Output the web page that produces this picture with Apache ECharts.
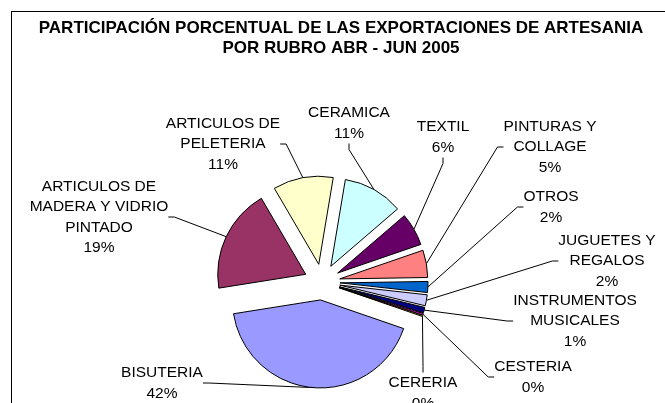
<!DOCTYPE html>
<html>
<head>
<meta charset="utf-8">
<script src="https://cdn.jsdelivr.net/npm/echarts@6/dist/echarts.min.js"></script>
<style>
  html, body { margin: 0; padding: 0; background: #fff; }
  #wrap { position: relative; width: 665px; height: 403px; overflow: hidden; }
  #frame {
    position: absolute; left: 11px; top: 11px; right: -10px; bottom: -10px;
    border-left: 1px solid #000; border-top: 1px solid #000;
  }
  #chart { position: absolute; left: 0; top: 0; width: 665px; height: 403px; }
</style>
</head>
<body>
<div id="wrap">
  <div id="frame"></div>
  <div id="chart"></div>
</div>
<script>
// data, in the workbook's order (clockwise from the right side)
const titleLines = [
  'PARTICIPACIÓN PORCENTUAL DE LAS EXPORTACIONES DE ARTESANIA',
  'POR RUBRO ABR - JUN 2005'
]
const categories = [
  'BISUTERIA',
  'ARTICULOS DE\nMADERA Y VIDRIO\nPINTADO',
  'ARTICULOS DE\nPELETERIA',
  'CERAMICA',
  'TEXTIL',
  'PINTURAS Y\nCOLLAGE',
  'OTROS',
  'JUGUETES Y\nREGALOS',
  'INSTRUMENTOS\nMUSICALES',
  'CESTERIA',
  'CERERIA'
]
const shares = [42, 19, 11, 11, 6, 5, 2, 2, 1, 0.3, 0.2]

// excel default fills
const colors = ['#9999FF', '#993366', '#FFFFCC', '#CCFFFF', '#660066', '#FF8080',
  '#0066CC', '#CCCCFF', '#000080', '#FF00FF', '#FFFF00']

// where the labels were dragged to (centre of each text block)
const labelPos = [
  [162, 383], [99, 217], [223, 144], [349, 123], [443, 137], [550, 147],
  [551, 207], [607, 261], [575, 321], [533, 377], [423, 393]
]

const font = '"Liberation Sans", Arial, sans-serif'
const center = [322, 282]
const radius = 88
const explode = 18

const chart = echarts.init(document.getElementById('chart'))

chart.setOption({
  animation: false,
  graphic: [{
    type: 'text',
    x: 341,
    y: 18,
    silent: true,
    style: {
      text: titleLines.join('\n'),
      align: 'center',
      font: 'bold 17px ' + font,
      lineHeight: 20.5,
      fill: '#000'
    }
  }],
  series: [
    {
      // exploded slices
      type: 'pie',
      center: center,
      radius: radius,
      startAngle: -19,
      selectedMode: 'multiple',
      selectedOffset: explode,
      silent: true,
      emphasis: { disabled: true },
      itemStyle: { borderColor: '#000', borderWidth: 1 },
      label: { show: false },
      labelLine: { show: false },
      data: shares.map((v, i) => ({
        name: categories[i],
        value: v,
        selected: true,
        itemStyle: { color: colors[i] }
      }))
    },
    {
      // invisible twin that only carries the labels and leader lines
      type: 'pie',
      center: center,
      radius: radius + explode,
      startAngle: -19,
      silent: true,
      avoidLabelOverlap: false,
      emphasis: { disabled: true },
      itemStyle: { color: 'rgba(0,0,0,0)', borderWidth: 0 },
      label: {
        show: true,
        position: 'outside',
        color: '#000',
        fontFamily: font,
        fontSize: 15.5,
        lineHeight: 20.5,
        align: 'center',
        formatter: (p) => p.name + '\n' + Math.round(p.value) + '%'
      },
      labelLine: {
        show: true,
        length: 6,
        length2: 6,
        lineStyle: { color: '#000', width: 1 }
      },
      labelLayout: (p) => ({
        x: labelPos[p.dataIndex][0],
        y: labelPos[p.dataIndex][1],
        align: 'center',
        verticalAlign: 'middle'
      }),
      data: shares.map((v, i) => ({ name: categories[i], value: v }))
    }
  ]
})
</script>
</body>
</html>
